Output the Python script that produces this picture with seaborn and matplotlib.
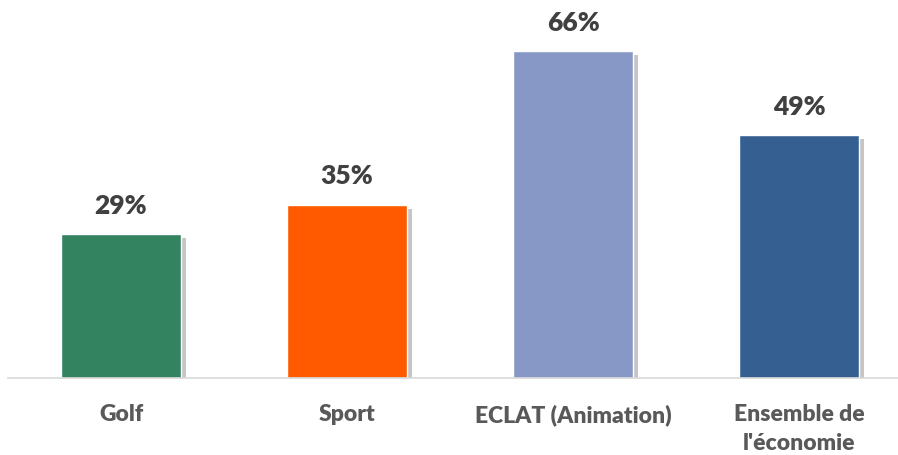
import matplotlib
matplotlib.use("Agg")
import matplotlib.pyplot as plt
import matplotlib.patheffects as pe
import seaborn as sns
import pandas as pd

categories = ["Golf", "Sport", "ECLAT (Animation)", "Ensemble de\nl'économie"]
values = [29, 35, 66, 49]
colors = ["#338360", "#FF5A00", "#8898C6", "#365F91"]

sns.set_style("white")
plt.rcParams["font.family"] = ["Lato", "DejaVu Sans"]

df = pd.DataFrame({"cat": categories, "val": values})

fig = plt.figure(figsize=(8.98, 4.55), dpi=100)
ax = fig.add_axes([8 / 898, 77 / 455, 890 / 898, 378 / 455])

sns.barplot(data=df, x="cat", y="val", hue="cat", palette=colors,
            width=0.527, legend=False, ax=ax, saturation=1)

# value labels + soft shadow on bars
for bar, v in zip(ax.patches, values):
    bar.set_path_effects([pe.SimplePatchShadow(offset=(4, -3), shadow_rgbFace="#7f7f7f", alpha=0.45),
                          pe.Normal()])
    ax.text(bar.get_x() + bar.get_width() / 2, bar.get_height() + 3.3, f"{v}%",
            ha="center", va="bottom", fontsize=19, fontweight="heavy", color="#404040")

ax.set_xlim(-0.5, 3.438)
ax.set_ylim(0, 76.3)
ax.set_xlabel("")
ax.set_ylabel("")
ax.set_yticks([])
ax.tick_params(axis="x", length=0, pad=19, labelsize=16.5, labelcolor="#595959")
for lbl in ax.get_xticklabels():
    lbl.set_fontweight("heavy")
    lbl.set_linespacing(1.45)
for s in ["top", "left", "right"]:
    ax.spines[s].set_visible(False)
ax.spines["bottom"].set_color("#D9D9D9")
ax.spines["bottom"].set_linewidth(1.2)

fig.savefig("out.png", dpi=100)
